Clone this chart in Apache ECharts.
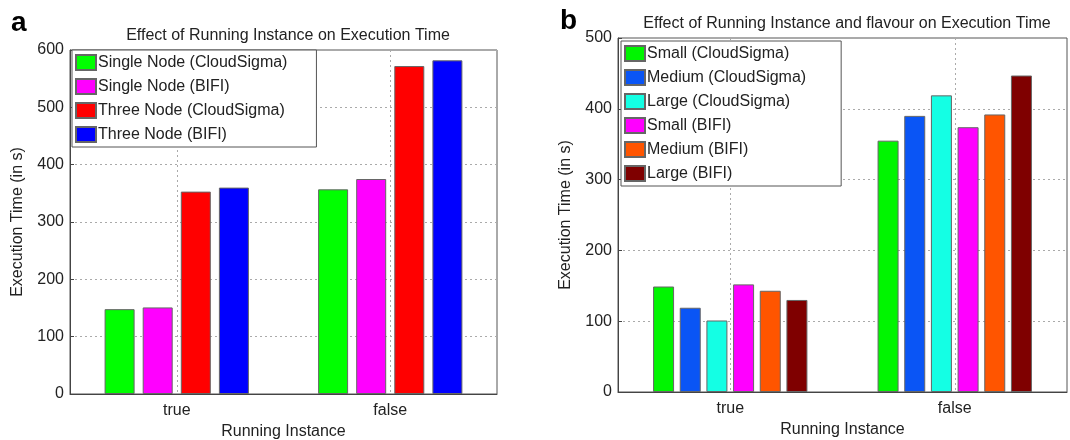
<!DOCTYPE html>
<html>
<head>
<meta charset="utf-8">
<script src="https://cdn.jsdelivr.net/npm/echarts@6/dist/echarts.min.js"></script>
<style>
  html, body { margin: 0; padding: 0; background: #fff; }
  #chart { width: 1070px; height: 440px; }
</style>
</head>
<body>
<div id="chart"></div>
<script>
// panel a
var categoriesA = ['true', 'false']
var namesA = ['Single Node (CloudSigma)', 'Single Node (BIFI)', 'Three Node (CloudSigma)', 'Three Node (BIFI)']
var singleCloud = [148, 357]
var singleBifi = [151, 375]
var threeCloud = [353, 572]
var threeBifi = [360, 582]
var valuesA = [singleCloud, singleBifi, threeCloud, threeBifi]
var colorsA = ['#00ff00', '#ff00ff', '#ff0000', '#0000ff']

// panel b
var categoriesB = ['true', 'false']
var namesB = ['Small (CloudSigma)', 'Medium (CloudSigma)', 'Large (CloudSigma)', 'Small (BIFI)', 'Medium (BIFI)', 'Large (BIFI)']
var smallCloud = [149, 355]
var mediumCloud = [119, 390]
var largeCloud = [101, 419]
var smallBifi = [152, 374]
var mediumBifi = [143, 392]
var largeBifi = [130, 447]
var valuesB = [smallCloud, mediumCloud, largeCloud, smallBifi, mediumBifi, largeBifi]
var colorsB = ['#00f500', '#0a55f5', '#14ffe4', '#ff00ff', '#ff5500', '#7f0000']

var font = 'Liberation Sans, Arial, sans-serif'
var myChart = echarts.init(document.getElementById('chart'))

function xAxisOf(idx, data) {
  return {
    type: 'category',
    gridIndex: idx,
    data: data,
    name: 'Running Instance',
    nameLocation: 'middle',
    nameGap: 30,
    nameTextStyle: { color: '#222', fontSize: 16, fontFamily: font },
    axisLine: { lineStyle: { color: '#444' } },
    axisTick: { show: false },
    axisLabel: { color: '#222', fontSize: 16, fontFamily: font, margin: 9 },
    splitLine: {
      show: true,
      alignWithLabel: true,
      lineStyle: { color: '#aaa', type: [2, 3], width: 1 }
    }
  }
}

function yAxisOf(idx, max) {
  return {
    type: 'value',
    gridIndex: idx,
    min: 0,
    max: max,
    interval: 100,
    name: 'Execution Time (in s)',
    nameLocation: 'middle',
    nameGap: 44,
    nameTextStyle: { color: '#222', fontSize: 16, fontFamily: font },
    axisLine: { show: true, lineStyle: { color: '#444' } },
    axisTick: { show: true, inside: true, length: 4, lineStyle: { color: '#444' } },
    axisLabel: { color: '#222', fontSize: 16, fontFamily: font, margin: 6 },
    splitLine: { show: true, lineStyle: { color: '#aaa', type: [2, 3], width: 1 } }
  }
}

var series = []
namesA.forEach(function (n, i) {
  series.push({
    name: n,
    type: 'bar',
    xAxisIndex: 0,
    yAxisIndex: 0,
    data: valuesA[i],
    barWidth: 30,
    barGap: '27%',
    itemStyle: { color: colorsA[i], borderColor: '#666', borderWidth: 1 }
  })
})
namesB.forEach(function (n, i) {
  series.push({
    name: n,
    type: 'bar',
    xAxisIndex: 1,
    yAxisIndex: 1,
    data: valuesB[i],
    barWidth: 21,
    barGap: '27%',
    itemStyle: { color: colorsB[i], borderColor: '#666', borderWidth: 1 }
  })
})

function legendOf(names, left, top, padRight) {
  return {
    data: names,
    orient: 'vertical',
    left: left,
    top: top,
    icon: 'rect',
    itemWidth: 20,
    itemHeight: 15,
    itemGap: 7,
    padding: [4, padRight, 4, 3],
    borderColor: '#555',
    borderWidth: 1,
    backgroundColor: '#fff',
    selectedMode: false,
    textStyle: { color: '#222', fontSize: 16, fontFamily: font, padding: [0, 0, 0, -3] }
  }
}

myChart.setOption({
  animation: false,
  backgroundColor: '#fff',
  title: [
    { text: 'a', left: 6, top: 4, textStyle: { fontSize: 28, fontWeight: 'bold', color: '#000', fontFamily: font } },
    { text: 'b', left: 555, top: 2, textStyle: { fontSize: 28, fontWeight: 'bold', color: '#000', fontFamily: font } },
    { text: 'Effect of Running Instance on Execution Time', left: 283, top: 23, textAlign: 'center',
      textStyle: { fontSize: 16, fontWeight: 'normal', color: '#222', fontFamily: font } },
    { text: 'Effect of Running Instance and flavour on Execution Time', left: 842, top: 11, textAlign: 'center',
      textStyle: { fontSize: 16, fontWeight: 'normal', color: '#222', fontFamily: font } }
  ],
  legend: [legendOf(namesA, 72, 50, 29), legendOf(namesB, 621, 41, 35)],
  grid: [
    { left: 70, top: 50, width: 427, height: 344, show: true, borderColor: '#555', borderWidth: 1, outerBoundsMode: 'none', containLabel: false },
    { left: 618, top: 38, width: 449, height: 354, show: true, borderColor: '#555', borderWidth: 1, outerBoundsMode: 'none', containLabel: false }
  ],
  xAxis: [xAxisOf(0, categoriesA), xAxisOf(1, categoriesB)],
  yAxis: [yAxisOf(0, 600), yAxisOf(1, 500)],
  series: series
})
</script>
</body>
</html>
